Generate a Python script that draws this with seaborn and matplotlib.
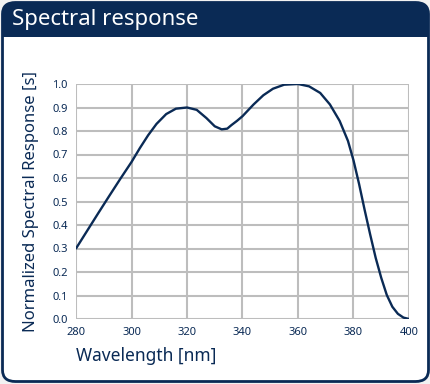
import numpy as np
import pandas as pd
import seaborn as sns
import matplotlib.pyplot as plt
from matplotlib.patches import FancyBboxPatch, Rectangle

# spectral response curve
wavelength = [280, 284, 288, 292, 296, 300, 303, 306, 309, 312.5, 316, 320,
              323.5, 327, 330, 332.5, 334.5, 336, 338, 340, 344, 347.5, 351,
              355, 360, 364, 368, 371.5, 375, 378, 380, 382, 384, 386, 388,
              390, 392, 394, 396, 398, 400]
response = [0.30, 0.375, 0.45, 0.524, 0.597, 0.668, 0.727, 0.782, 0.830,
            0.872, 0.895, 0.90, 0.89, 0.855, 0.82, 0.807, 0.81, 0.825, 0.843,
            0.863, 0.913, 0.952, 0.98, 0.997, 1.0, 0.99, 0.962, 0.913, 0.843,
            0.758, 0.675, 0.575, 0.465, 0.36, 0.26, 0.175, 0.102, 0.052,
            0.022, 0.006, 0.0]
xticks = [280, 300, 320, 340, 360, 380, 400]
yticks = [0.0, 0.1, 0.2, 0.3, 0.4, 0.5, 0.6, 0.7, 0.8, 0.9, 1.0]

df = pd.DataFrame({'wavelength': wavelength, 'response': response})

navy = '#0a2a55'
grid_col = '#bdbdbd'

sns.set_style('white')
plt.rcParams['font.family'] = ['Noto Sans', 'DejaVu Sans']

W, H = 431, 384
fig = plt.figure(figsize=(W / 100, H / 100), dpi=100)
fig.patch.set_facecolor('#f2f2f2')

# rounded frame with dark header band
frame = FancyBboxPatch((2.5 / W, 2.5 / H), (W - 5) / W, (H - 5) / H,
                       boxstyle='round,pad=0,rounding_size=0.03',
                       transform=fig.transFigure, facecolor='white',
                       edgecolor=navy, linewidth=2.0, zorder=0)
fig.patches.append(frame)
header = FancyBboxPatch((2.5 / W, (H - 37) / H), (W - 5) / W, 34.5 / H,
                        boxstyle='round,pad=0,rounding_size=0.025',
                        transform=fig.transFigure, facecolor=navy,
                        edgecolor=navy, linewidth=0, zorder=1)
fig.patches.append(header)
fig.patches.append(Rectangle((2.5 / W, (H - 37) / H), (W - 5) / W, 12 / H,
                             transform=fig.transFigure, facecolor=navy,
                             edgecolor='none', zorder=1))
fig.text(12 / W, (H - 20) / H, 'Spectral response', color='white',
         fontsize=16, va='center', ha='left', zorder=2)

ax = fig.add_axes([76 / W, (H - 319) / H, 333 / W, 235 / H])
ax.set_zorder(5)
sns.lineplot(data=df, x='wavelength', y='response', ax=ax, color=navy,
             linewidth=1.7, zorder=3)

ax.set_xlim(280, 400)
ax.set_ylim(0, 1.0)
ax.set_xticks(xticks)
ax.set_yticks(yticks)
ax.set_yticklabels([f'{v:.1f}' for v in yticks])
ax.grid(True, color=grid_col, linewidth=1.5)
for s in ax.spines.values():
    s.set_visible(False)
ax.tick_params(length=0, colors=navy, labelsize=8)
ax.tick_params(axis='x', pad=6)
ax.tick_params(axis='y', pad=6)
ax.set_xlabel('Wavelength [nm]', color=navy, fontsize=12.5, loc='left', labelpad=6)
ax.set_ylabel('Normalized Spectral Response [s]', color=navy, fontsize=12)
ax.yaxis.set_label_coords(-0.11, 0.50)

plt.savefig('out.png', dpi=100)
